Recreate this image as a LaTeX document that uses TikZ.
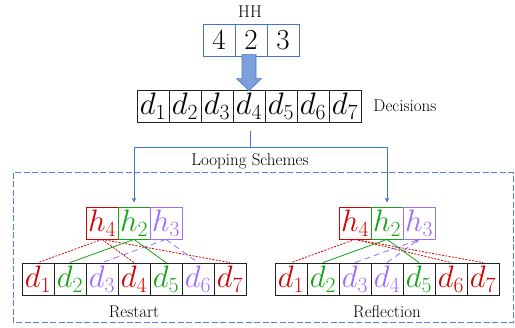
\RequirePackage{fix-cm}
\documentclass[tikz,border=0pt]{standalone}
\usetikzlibrary{arrows.meta,calc}
\definecolor{cred}{HTML}{D40000}
\definecolor{cgreen}{HTML}{14A314}
\definecolor{cpurple}{HTML}{9C6BFF}
\definecolor{cblue}{HTML}{3D74D6}
\definecolor{framecol}{HTML}{4F82D6}
\definecolor{afill}{HTML}{7BA0DC}
\definecolor{adraw}{HTML}{4A7ACC}
\definecolor{cgray}{HTML}{222222}
\begin{document}
\begin{tikzpicture}[x=1pt,y=-1pt,
  cell/.style={draw, line width=0.8pt, minimum width=32pt, minimum height=32pt, inner sep=0pt, font=\fontsize{31}{34}\selectfont},
  hhcell/.style={cell, draw=cblue, font=\fontsize{29}{32}\selectfont},
  dcell/.style={cell, draw=cgray},
  lab/.style={font=\fontsize{17}{20}\selectfont, inner sep=0pt},
  redl/.style={draw=cred, line width=0.8pt, dash pattern=on 2pt off 1.4pt},
  grnl/.style={draw=cgreen, line width=0.8pt},
  purl/.style={draw=cpurple, line width=0.8pt, dash pattern=on 6pt off 4pt},
  bline/.style={draw=cblue, line width=0.8pt}]
\useasboundingbox (0,0) rectangle (515,328);

% HH
\node[lab] (hhlab) at (250,12) {HH};
\node[hhcell] (hh1) at (219,40) {4};
\node[hhcell] (hh2) at (251,40) {2};
\node[hhcell] (hh3) at (283,40) {3};

% Decisions
\foreach \i in {1,...,7} {
  \node[dcell] (dec\i) at (121+32*\i,106) {$d_{\i}$};
}
\node[lab] (declab) at (405,106) {Decisions};

% big arrow
\coordinate (at) at ($(dec4.north)+(0,1)$);
\coordinate (ab) at ($(dec4.north |- hh2.south)+(0,-2)$);
\filldraw[fill=afill, draw=adraw, line width=0.6pt]
  ($(ab)+(-7,0)$) -- ($(ab)+(7,0)$) -- ($(at)+(7,-12)$) -- ($(at)+(12.5,-12)$)
  -- (at) -- ($(at)+(-12.5,-12)$) -- ($(at)+(-7,-12)$) -- cycle;

% dashed frame
\draw[framecol, line width=1pt, dash pattern=on 6pt off 2.5pt] (13,173) rectangle (513,323);

% Restart
\node[cell, draw=cred, text=cred] (rh4) at (102,223) {$h_4$};
\node[cell, draw=cgreen, text=cgreen] (rh2) at (134,223) {$h_2$};
\node[cell, draw=cpurple, text=cpurple] (rh3) at (166,223) {$h_3$};
\foreach \i/\c in {1/cred,2/cgreen,3/cpurple,4/cred,5/cgreen,6/cpurple,7/cred} {
  \node[dcell, text=\c] (rd\i) at (6+32*\i,279) {$d_{\i}$};
}
\node[lab] (rlab) at (134,312) {Restart};

% Reflection
\node[cell, draw=cred, text=cred] (fh4) at (355,223) {$h_4$};
\node[cell, draw=cgreen, text=cgreen] (fh2) at (387,223) {$h_2$};
\node[cell, draw=cpurple, text=cpurple] (fh3) at (419,223) {$h_3$};
\foreach \i/\c in {1/cred,2/cgreen,3/cpurple,4/cpurple,5/cgreen,6/cred,7/cred} {
  \node[dcell, text=\c] (fd\i) at (259+32*\i,279) {$d_{\i}$};
}
\node[lab] (flab) at (387,312) {Reflection};

% connectors top
\coordinate (br) at ($(dec4.south)+(1,25)$);
\draw[bline] ($(dec4.south)+(1,9)$) -- (br);
\draw[bline, -{Stealth[length=5pt,width=4.5pt]}, shorten >=4pt] (br) -| (rh2.north);
\draw[bline, -{Stealth[length=5pt,width=4.5pt]}, shorten >=4pt] (br) -| (fh2.north);
\node[lab] (loop) at (250,161) {Looping Schemes};

% Restart links
\draw[redl] (rh4.south) -- (rd1.north);
\draw[redl] (rh4.south) -- (rd4.north);
\draw[redl] (rh4.south) -- (rd7.north);
\draw[grnl] (rh2.south) -- (rd2.north);
\draw[grnl] (rh2.south) -- (rd5.north);
\draw[purl] (rh3.south) -- (rd3.north);
\draw[purl] (rh3.south) -- (rd6.north);

% Reflection links
\draw[redl] (fh4.south) -- (fd1.north);
\draw[redl] (fh4.south) -- (fd6.north);
\draw[redl] (fh4.south) -- (fd7.north);
\draw[grnl] (fh2.south) -- (fd2.north);
\draw[grnl] (fh2.south) -- (fd5.north);
\draw[purl, -{Stealth[length=4pt,width=3.5pt]}] (fd3.north) -- (fh3.south);
\draw[purl, -{Stealth[length=4pt,width=3.5pt]}] (fd4.north) -- (fh3.south);
\end{tikzpicture}
\end{document}
